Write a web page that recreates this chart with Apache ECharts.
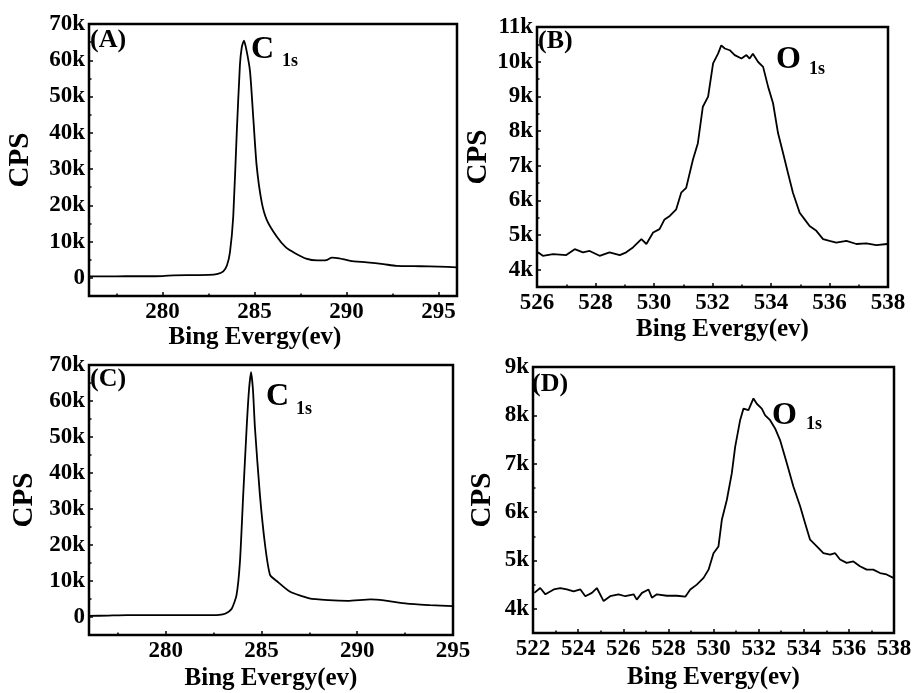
<!DOCTYPE html>
<html><head><meta charset="utf-8">
<script src="https://cdn.jsdelivr.net/npm/echarts@6/dist/echarts.min.js"></script>
<style>html,body{margin:0;padding:0;background:#fff}#c{width:915px;height:693px}</style>
</head><body><div id="c"></div>
<script>
// ---- Panel A (C 1s) ----
const energyA = [276,277,278,279,280,280.6,281.5,282.5,283.0,283.3,283.5,283.66,283.84,284.03,284.2,284.3,284.42,284.55,284.75,284.93,285.11,285.38,285.66,286.2,286.7,287.2,287.8,288.4,288.9,289.2,289.6,290.2,291.1,292.0,292.7,294,295,296];
const cpsA    = [400,400,450,450,500,700,750,800,1100,1800,3500,7000,17000,40000,58500,63500,65400,63000,57000,44000,31000,21000,16000,11400,8400,6800,5300,4800,4900,5600,5400,4700,4300,3800,3300,3200,3100,2900];
// ---- Panel B (O 1s) ----
const energyB = [526.03,526.2,526.55,527.0,527.29,527.57,527.8,528.14,528.48,528.83,529.05,529.28,529.57,529.74,529.97,530.19,530.36,530.54,530.76,530.93,531.1,531.33,531.5,531.67,531.85,532.02,532.19,532.3,532.42,532.59,532.76,532.99,533.16,533.27,533.38,533.56,533.73,533.9,534.07,534.24,534.41,534.58,534.75,534.98,535.15,535.32,535.55,535.78,536.0,536.23,536.58,536.92,537.26,537.6,537.97];
const cpsB    = [4500,4400,4450,4420,4590,4500,4540,4400,4500,4420,4500,4640,4880,4740,5070,5170,5450,5550,5740,6220,6360,7170,7650,8700,8990,9950,10230,10470,10380,10330,10190,10090,10190,10090,10230,9990,9850,9280,8800,7940,7370,6790,6220,5640,5450,5260,5120,4880,4830,4780,4830,4740,4760,4710,4740];
// ---- Panel C (C 1s) ----
const energyC = [276,277,278,280,282,282.8,283.1,283.45,283.7,283.88,284.05,284.23,284.35,284.46,284.56,284.66,284.92,285.19,285.45,285.8,286.5,287.5,288.5,289.5,290.7,291.4,292.6,293.8,295];
const cpsC    = [300,400,500,500,500,600,900,2300,6100,15400,34000,52700,63000,68000,63000,52700,34000,20000,11700,10000,7000,5200,4700,4500,4900,4600,3700,3300,3000];
// ---- Panel D (O 1s) ----
const energyD = [522.06,522.32,522.55,522.92,523.21,523.5,523.8,524.1,524.32,524.61,524.83,525.13,525.42,525.79,526.09,526.46,526.6,526.83,527.12,527.27,527.49,527.93,528.38,528.75,528.97,529.26,529.56,529.78,530.0,530.22,530.37,530.59,530.81,530.96,531.18,531.33,531.55,531.77,531.92,532.14,532.29,532.51,532.73,532.95,533.25,533.54,533.84,534.06,534.28,534.58,534.87,535.17,535.39,535.61,535.9,536.2,536.49,536.79,537.08,537.38,537.67,537.97];
const cpsD    = [4330,4430,4300,4400,4430,4400,4360,4400,4260,4330,4430,4160,4260,4300,4260,4300,4190,4330,4400,4230,4300,4270,4270,4250,4400,4500,4640,4810,5150,5290,5840,6250,6800,7350,7900,8140,8110,8350,8240,8140,8000,7900,7730,7490,7010,6530,6120,5770,5430,5290,5150,5120,5150,5020,4950,4980,4880,4810,4810,4740,4710,4640];

// tick labels (major) and minor tick positions
const xLabelsAC = [280,285,290,295];
const xMinorAC  = [277.5,282.5,287.5,292.5];
const yLabelsAC = [0,10000,20000,30000,40000,50000,60000,70000];
const yMinorAC  = [5000,15000,25000,35000,45000,55000,65000];
const xLabelsB = [526,528,530,532,534,536,538];
const xMinorB  = [527,529,531,533,535,537];
const yLabelsB = [4000,5000,6000,7000,8000,9000,10000,11000];
const yMinorB  = [4500,5500,6500,7500,8500,9500,10500];
const xLabelsD = [522,524,526,528,530,532,534,536,538];
const xMinorD  = [523,525,527,529,531,533,535,537];
const yLabelsD = [4000,5000,6000,7000,8000,9000];
const yMinorD  = [4500,5500,6500,7500,8500];

const FONT = '"Liberation Serif","Times New Roman",serif';
const kFmt = v => v === 0 ? '0' : (v/1000) + 'k';
function zip(a,b){ return a.map((x,i)=>[x,b[i]]); }

function xAxis(idx,min,max,labels,gap,pad){
  return {type:'value',gridIndex:idx,min:min,max:max,
    name:'Bing Evergy(ev)',nameLocation:'middle',nameGap:gap,
    nameTextStyle:{fontFamily:FONT,fontWeight:'bold',fontSize:25,color:'#000',padding:pad||0},
    axisLine:{show:false,onZero:false},splitLine:{show:false},
    axisTick:{show:true,inside:true,length:4,customValues:labels,lineStyle:{color:'#000',width:1.5}},
    axisLabel:{customValues:labels,margin:5,fontFamily:FONT,fontWeight:'bold',fontSize:23,color:'#000'}};
}
function xMinor(idx,min,max,ticks){
  return {type:'value',gridIndex:idx,min:min,max:max,position:'bottom',
    axisLine:{show:false,onZero:false},splitLine:{show:false},axisLabel:{show:false},
    axisTick:{show:true,inside:true,length:2.5,customValues:ticks,lineStyle:{color:'#000',width:1.5}}};
}
function yAxis(idx,min,max,labels,gap){
  return {type:'value',gridIndex:idx,min:min,max:max,
    name:'CPS',nameLocation:'middle',nameGap:gap,
    nameTextStyle:{fontFamily:FONT,fontWeight:'bold',fontSize:29,color:'#000'},
    axisLine:{show:false,onZero:false},splitLine:{show:false},
    axisTick:{show:true,inside:true,length:4,customValues:labels,lineStyle:{color:'#000',width:1.5}},
    axisLabel:{customValues:labels,margin:4,formatter:kFmt,fontFamily:FONT,fontWeight:'bold',fontSize:23,color:'#000'}};
}
function yMinor(idx,min,max,ticks){
  return {type:'value',gridIndex:idx,min:min,max:max,position:'left',
    axisLine:{show:false,onZero:false},splitLine:{show:false},axisLabel:{show:false},
    axisTick:{show:true,inside:true,length:2.5,customValues:ticks,lineStyle:{color:'#000',width:1.5}}};
}
function line(idx,data,smooth){
  return {type:'line',xAxisIndex:idx,yAxisIndex:idx,data:data,showSymbol:false,smooth:smooth,
    lineStyle:{color:'#000',width:1.8},silent:true,animation:false};
}
function txt(t,x,y,size){
  return {type:'text',left:x,top:y,style:{text:t,fontFamily:FONT,fontWeight:'bold',fontSize:size,fill:'#000'}};
}
const grid = (l,t,w,h)=>({left:l,top:t,width:w,height:h,show:true,borderColor:'#000',borderWidth:2.5,backgroundColor:'transparent'});

const chart = echarts.init(document.getElementById('c'));
chart.setOption({
  backgroundColor:'#fff',
  animation:false,
  grid:[grid(89,24,368,272),grid(537,27,351,260),grid(89,365,364,270),grid(533,367,361,266)],
  xAxis:[
    xAxis(0,276,296,xLabelsAC,28,[0,36,0,0]),
    xAxis(1,526,538,xLabelsB,30,[0,0,0,20]),
    xAxis(2,276,295,xLabelsAC,31),
    xAxis(3,522,538,xLabelsD,32),
    xMinor(0,276,296,xMinorAC),
    xMinor(1,526,538,xMinorB),
    xMinor(2,276,295,xMinorAC),
    xMinor(3,522,538,xMinorD)
  ],
  yAxis:[
    yAxis(0,-5000,70000,yLabelsAC,54),
    yAxis(1,3500,11000,yLabelsB,38),
    yAxis(2,-5000,70000,yLabelsAC,50),
    yAxis(3,3500,9000,yLabelsD,36),
    yMinor(0,-5000,70000,yMinorAC),
    yMinor(1,3500,11000,yMinorB),
    yMinor(2,-5000,70000,yMinorAC),
    yMinor(3,3500,9000,yMinorD)
  ],
  series:[
    line(0,zip(energyA,cpsA),0.2),
    line(1,zip(energyB,cpsB),false),
    line(2,zip(energyC,cpsC),0.2),
    line(3,zip(energyD,cpsD),false)
  ],
  graphic:[
    txt('(A)',90,27,26), txt('C',251,34,32), txt('1s',282,52,18),
    txt('(B)',538,28,26), txt('O',776,44,32), txt('1s',809,60,18),
    txt('(C)',90,366,26), txt('C',266,381,32), txt('1s',296,400,18),
    txt('(D)',532,371,26), txt('O',772,400,32), txt('1s',806,415,18)
  ]
});
</script></body></html>
